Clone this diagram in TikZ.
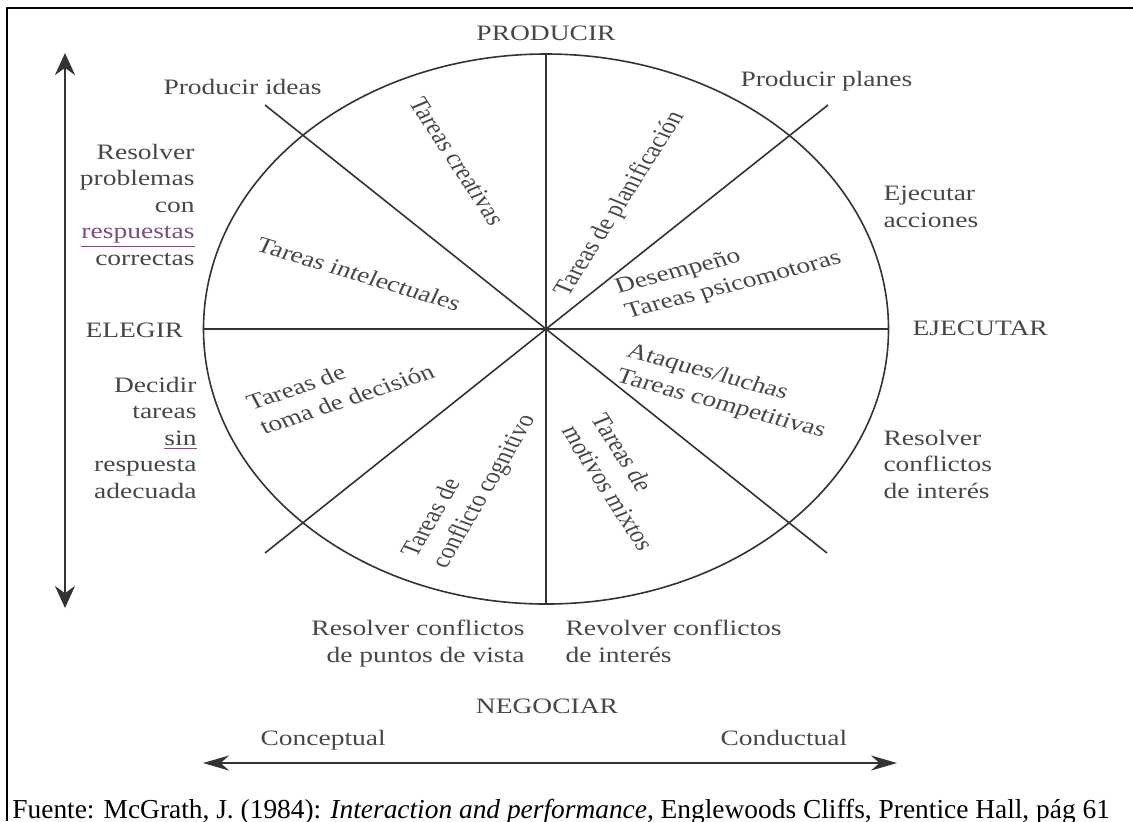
\documentclass[tikz,border=0pt]{standalone}
\usepackage{fontspec}
\setmainfont{Liberation Serif}
\usepackage{tikz}
\usetikzlibrary{arrows.meta}

\begin{document}
\begin{tikzpicture}[x=0.5pt, y=-0.5pt,
    txt/.style={inner sep=0pt, text=\tinta, xscale=1.25,
      font=\fontsize{11}{13.25}\selectfont},
    spoke/.style={draw=\trazo, line width=0.8pt},
    tipV/.style={{Stealth[length=11pt,width=10pt]}-{Stealth[length=11pt,width=10pt]}},
    tipH/.style={{Stealth[length=13pt,width=7.5pt]}-{Stealth[length=13pt,width=7.5pt]}}]
        \def\trazo{black!80}
        \def\tinta{black!72}
        \def\lila{violet!55!black!70}
        \def\rx{342.5}
        \def\ry{275}

        \useasboundingbox (0,0) rectangle (1133,821);
        % frame
        \draw[black, line width=1pt] (7,821) -- (7,8) -- (1133,8);

        % circle and its spokes
        \coordinate (o) at (546,329);
        \draw[spoke] (o) ellipse [x radius=\rx, y radius=\ry];
        \coordinate (n) at (546,54);
        \coordinate (s) at (546,604);
        \coordinate (w) at (203,329);
        \coordinate (e) at (888,329);
        \coordinate (nw) at (265,105);
        \coordinate (se) at (827,553);
        \coordinate (ne) at (828,105);
        \coordinate (sw) at (265,553);
        \foreach \p in {n,s,w,e,nw,se,ne,sw}
            \draw[spoke] (o) -- (\p);

        % the four poles
        \node[txt, anchor=base] (prod) at (546,40) {PRODUCIR};
        \node[txt, anchor=base west] (eleg) at (85,337) {ELEGIR};
        \node[txt, anchor=base west] (ejec) at (912,335) {EJECUTAR};
        \node[txt, anchor=base] (nego) at (547,713) {NEGOCIAR};

        % outer labels (base = last line)
        \node[txt, anchor=base west] (pIdeas) at (163,94) {Producir ideas};
        \node[txt, anchor=base west] (pPlanes) at (740,86) {Producir planes};
        \node[txt, anchor=base east, align=right] (rCorr) at (195,265)
            {Resolver\\problemas\\con\\\textcolor{\lila}{\underline{respuestas}}\\correctas};
        \node[txt, anchor=base east, align=right] (dSin) at (197,498)
            {Decidir\\tareas\\{\color{\lila}\underline{\textcolor{\tinta}{sin}}}\\respuesta\\adecuada};
        \node[txt, anchor=base west, align=left] (eAcc) at (883,227) {Ejecutar\\acciones};
        \node[txt, anchor=base west, align=left] (rInterD) at (883,498) {Resolver\\conflictos\\de interés};
        \node[txt, anchor=base east, align=right] (rVista) at (525,662) {Resolver conflictos\\de puntos de vista};
        \node[txt, anchor=base west, align=left] (rInter) at (565,662) {Revolver conflictos\\de interés};

        % sector labels
        \node[txt, rotate=-62.2] (tCrea) at (457,161) {Tareas creativas};
        \node[txt, rotate=62.9] (tPlan) at (620,204) {Tareas de planificación};
        \node[txt, rotate=-20.6] (tInte) at (359,274) {Tareas intelectuales};
        \node[txt, rotate=17.8, anchor=west, align=left] (tDesem) at (621,301) {Desempeño\\Tareas psicomotoras};
        \node[txt, rotate=-18.6, anchor=west, align=left] (tLucha) at (622,364) {Ataques/luchas\\Tareas competitivas};
        \node[txt, rotate=22.9, anchor=west, align=left] (tDecis) at (254,416) {Tareas de\\toma de decisión};
        \node[txt, rotate=64.7, anchor=west, align=left] (tCogn) at (425,562) {Tareas de\\conflicto cognitivo};
        \node[txt, rotate=-62.7, anchor=west, align=left] (tMixt) at (584,421) {Tareas de\\motivos mixtos};

        % axes
        \coordinate (vTop) at (65,53);
        \coordinate (vBot) at (65,608);
        \draw[tipV, \trazo, line width=1pt] (vTop) -- (vBot);
        \coordinate (hIzq) at (203,763);
        \coordinate (hDer) at (897,763);
        \draw[tipH, \trazo, line width=1pt] (hIzq) -- (hDer);
        \node[txt, anchor=base west] (conc) at (260,745) {Conceptual};
        \node[txt, anchor=base west] (cond) at (720,745) {Conductual};

        \node[anchor=base west, inner sep=0pt, font=\fontsize{13.7}{16}\selectfont] (fuente) at (12,818)
            {Fuente: McGrath, J. (1984): \textit{Interaction and performance}, Englewoods Cliffs, Prentice Hall, pág 61};
    \end{tikzpicture}
\end{document}
